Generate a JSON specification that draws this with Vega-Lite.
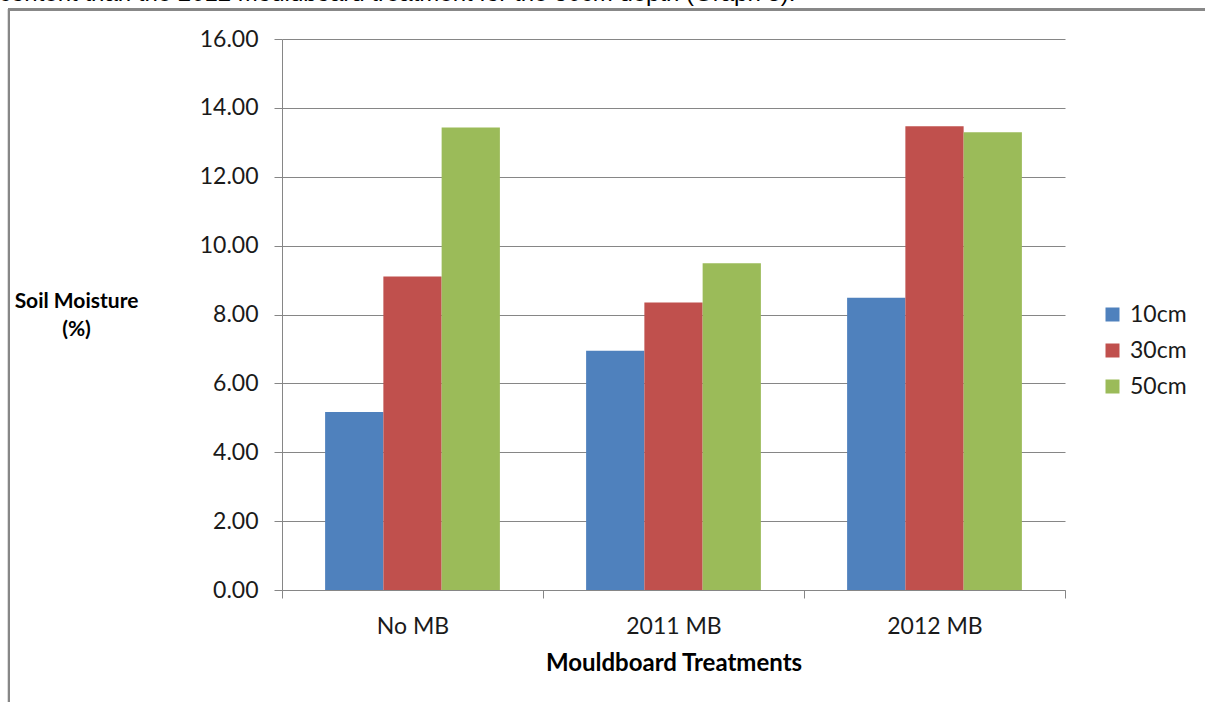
{
  "$schema": "https://vega.github.io/schema/vega-lite/v6.json",
  "width": 783,
  "height": 551,
  "autosize": {"type": "none"},
  "padding": {"left": 282, "top": 39, "right": 140, "bottom": 112},
  "background": "white",
  "title": {
    "text": "content than the 2012 mouldboard treatment for the 30cm depth (Graph 5).",
    "anchor": "start",
    "frame": "group",
    "orient": "top",
    "font": "Liberation Sans",
    "fontSize": 24,
    "fontWeight": "normal",
    "color": "#000000",
    "baseline": "alphabetic",
    "offset": 4,
    "dx": -283,
    "dy": 21
  },
  "data": {
    "values": [
      {"treatment": "No MB", "depth": "10cm", "moisture": 5.17},
      {"treatment": "No MB", "depth": "30cm", "moisture": 9.10},
      {"treatment": "No MB", "depth": "50cm", "moisture": 13.43},
      {"treatment": "2011 MB", "depth": "10cm", "moisture": 6.95},
      {"treatment": "2011 MB", "depth": "30cm", "moisture": 8.35},
      {"treatment": "2011 MB", "depth": "50cm", "moisture": 9.49},
      {"treatment": "2012 MB", "depth": "10cm", "moisture": 8.49},
      {"treatment": "2012 MB", "depth": "30cm", "moisture": 13.47},
      {"treatment": "2012 MB", "depth": "50cm", "moisture": 13.29}
    ]
  },
  "layer": [
    {
      "mark": {"type": "rect", "fillOpacity": 0, "stroke": "#878787", "strokeWidth": 2, "clip": false},
      "encoding": {
        "x": {"datum": -0.3487, "type": "quantitative", "scale": {"domain": [0, 1], "nice": false, "zero": false}, "axis": null},
        "x2": {"datum": 1.5},
        "y": {"datum": 16.86, "type": "quantitative", "scale": {"domain": [0, 16], "nice": false, "zero": false}, "axis": null},
        "y2": {"datum": -6}
      }
    },
    {
      "mark": {"type": "bar"},
      "encoding": {
        "x": {
          "field": "treatment",
          "type": "nominal",
          "sort": ["No MB", "2011 MB", "2012 MB"],
          "scale": {"paddingInner": 0, "paddingOuter": 0},
          "title": "Mouldboard Treatments",
          "axis": {
            "tickBand": "extent",
            "labelAngle": 0,
            "labelPadding": 17,
            "titlePadding": 13
          }
        },
        "xOffset": {
          "field": "depth",
          "type": "nominal",
          "sort": ["10cm", "30cm", "50cm"],
          "scale": {"paddingInner": 0, "paddingOuter": 0.74}
        },
        "y": {
          "field": "moisture",
          "type": "quantitative",
          "scale": {"domain": [0, 16], "nice": false},
          "title": ["Soil Moisture", "(%)"],
          "axis": {
            "values": [0, 2, 4, 6, 8, 10, 12, 14, 16],
            "format": ".2f",
            "grid": true,
            "labelPadding": 16,
            "titleAngle": 0,
            "titleAlign": "center",
            "titleBaseline": "top",
            "titleFontSize": 21,
            "titleX": -206,
            "titleY": 251,
            "titleLineHeight": 28
          }
        },
        "color": {
          "field": "depth",
          "type": "nominal",
          "scale": {"domain": ["10cm", "30cm", "50cm"], "range": ["#4F81BD", "#C0504D", "#9BBB59"]},
          "legend": {
            "title": null,
            "orient": "none",
            "legendX": 819,
            "legendY": 264,
            "symbolType": "square",
            "symbolSize": 196,
            "symbolStrokeWidth": 0,
            "labelFontSize": 23,
            "labelFont": "Lato",
            "labelColor": "#1a1a1a",
            "labelOffset": 6,
            "rowPadding": 12
          }
        }
      }
    }
  ],
  "resolve": {"scale": {"x": "independent", "y": "independent"}},
  "config": {
    "font": "Lato",
    "view": {"stroke": null},
    "axis": {
      "domainColor": "#868686",
      "tickColor": "#868686",
      "gridColor": "#868686",
      "gridOpacity": 1,
      "tickSize": 8,
      "labelFont": "Lato",
      "labelFontSize": 23,
      "labelColor": "#1a1a1a",
      "titleFont": "Lato",
      "titleFontSize": 24,
      "titleFontWeight": "bold",
      "titleColor": "#000000"
    },
    "axisX": {"grid": false}
  }
}
